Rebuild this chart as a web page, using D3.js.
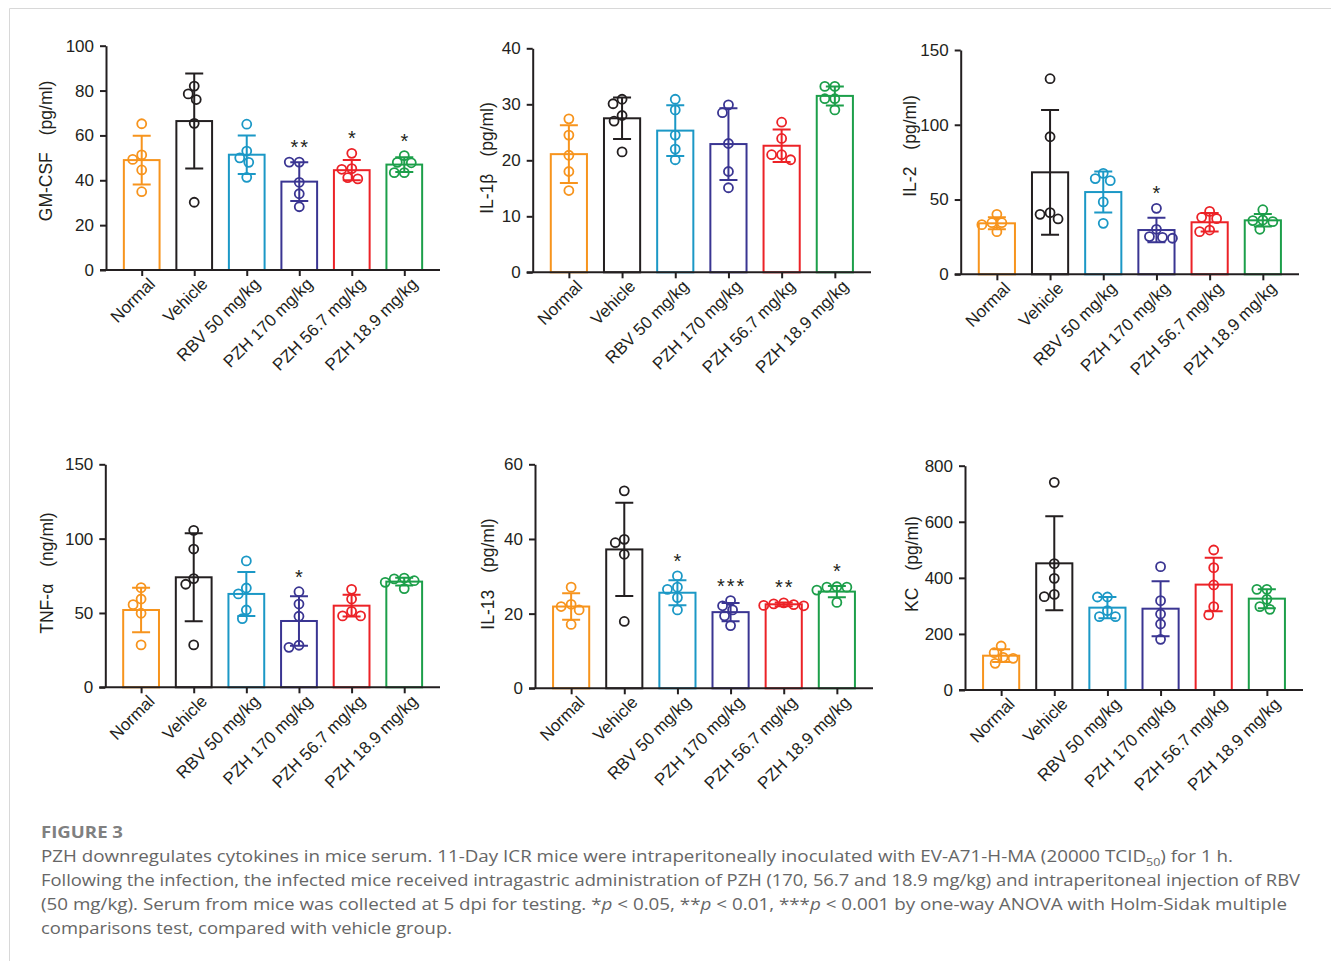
<!DOCTYPE html>
<html>
<head>
<meta charset="utf-8">
<script src="https://cdn.jsdelivr.net/npm/d3@7"></script>
<style>
  body { margin: 0; background: #fff; }
  svg text { font-family: "Liberation Sans", Arial, sans-serif; }
  .cap { font-family: "Open Sans", "Noto Sans", sans-serif !important; }
</style>
</head>
<body>
<svg id="fig" width="1331" height="961"></svg>
<script>
// groups + colours
const categories = ["Normal", "Vehicle", "RBV 50 mg/kg", "PZH 170 mg/kg", "PZH 56.7 mg/kg", "PZH 18.9 mg/kg"];
const groupColors = ["#f7941d", "#231f20", "#1b98c6", "#3a3592", "#ec2227", "#1c9f4a"];

// GM-CSF (pg/ml)
const gmcsfMean = [49, 66.4, 51.4, 39.4, 44.5, 47];
const gmcsfSd = [10.9, 21.2, 8.6, 8.6, 4.5, 3.3];
const gmcsfPts = [[65.2, 51.3, 49.3, 44.6, 34.9], [82, 78.5, 76, 65.4, 30.2], [65, 53, 50, 48, 41.3],
                  [48.1, 48.1, 39.1, 34, 28.2], [52, 45.2, 44.9, 41.2, 40.6], [51, 48, 47.8, 43.4, 43.4]];
const gmcsfSig = ["", "", "", "**", "*", "*"];

// IL-1β (pg/ml)
const il1bMean = [21.1, 27.5, 25.3, 22.9, 22.6, 31.5];
const il1bSd = [5.15, 3.7, 4.55, 6.4, 2.9, 1.7];
const il1bPts = [[27.4, 24.5, 20.9, 18, 14.6], [30.9, 30.1, 28, 27, 21.5], [30.9, 29, 24.5, 22, 20.1],
                 [29.9, 28.5, 23, 18, 15.1], [26.8, 23.9, 21, 21, 20.1], [33.2, 33.2, 31, 31, 29]];
const il1bSig = ["", "", "", "", "", ""];

// IL-2 (pg/ml)
const il2Mean = [34.1, 68.2, 55, 29.6, 34.8, 36.1];
const il2Sd = [4, 41.7, 13.7, 8.25, 6.15, 4.2];
const il2Pts = [[40.1, 34.5, 34.5, 33.2, 28.5], [130.8, 92, 41.2, 40.1, 37], [67.5, 64, 62.6, 48.4, 34.1],
                [44.1, 30.1, 25.2, 24.7, 24.1], [42.1, 38.1, 37.2, 29.6, 28.5], [43.2, 36.3, 35.9, 35.2, 30.1]];
const il2Sig = ["", "", "", "*", "", ""];

// TNF-α (ng/ml)
const tnfMean = [52, 74, 62.8, 44.6, 54.9, 71.1];
const tnfSd = [14.9, 29.6, 14.8, 16.6, 7.3, 2.6];
const tnfPts = [[67, 59.4, 55.6, 49.8, 28.5], [105.6, 93, 73.1, 69.3, 28.5], [85, 66.8, 62.8, 52, 46.2],
                [64.3, 56, 47.8, 28.3, 26.9], [65.9, 59.4, 51.1, 48, 48], [73.5, 72.9, 71.7, 70.6, 66.4]];
const tnfSig = ["", "", "", "*", "", ""];

// IL-13 (pg/ml)
const il13Mean = [21.9, 37.2, 25.6, 20.4, 22.5, 25.9];
const il13Sd = [3.55, 12.5, 3.35, 2.45, 0.5, 1.5];
const il13Pts = [[27.1, 22.5, 21.9, 21, 17.1], [52.9, 39.9, 39, 35.9, 17.9], [30.1, 27.1, 26.5, 24.3, 21],
                 [23.5, 22.1, 21, 19.4, 16.8], [22.9, 22.6, 22.4, 22.2, 22.1], [27.2, 27.1, 27.1, 26.3, 23]];
const il13Sig = ["", "", "*", "***", "**", "*"];

// KC (pg/ml)
const kcMean = [122.4, 451.8, 293.7, 290, 375.9, 325.8];
const kcSd = [22.5, 167.5, 38, 98.2, 95.4, 33.9];
const kcPts = [[157, 133, 116.5, 113, 95], [740.6, 450.6, 398.3, 341, 333], [331.7, 331.7, 283, 261.6, 261.6],
               [440, 318.7, 271, 235.4, 180.7], [499.4, 436.4, 374.6, 297.3, 267.6], [359, 359, 323.4, 297.3, 287.7]];
const kcSig = ["", "", "", "", "", ""];

const panels = [
  { name: "GM-CSF", unit: "(pg/ml)", mean: gmcsfMean, sd: gmcsfSd, pts: gmcsfPts, sig: gmcsfSig,
    max: 100, ticks: [0, 20, 40, 60, 80, 100], x0: 106, x1: 440, top: 45.7, bottom: 270, tx: 46, ty: 151 },
  { name: "IL-1\u03b2", unit: "(pg/ml)", mean: il1bMean, sd: il1bSd, pts: il1bPts, sig: il1bSig,
    max: 40, ticks: [0, 10, 20, 30, 40], x0: 532.7, x1: 871, top: 48.3, bottom: 272.3, tx: 487, ty: 158 },
  { name: "IL-2", unit: "(pg/ml)", mean: il2Mean, sd: il2Sd, pts: il2Pts, sig: il2Sig,
    max: 150, ticks: [0, 50, 100, 150], x0: 960.7, x1: 1299, top: 50, bottom: 274.3, tx: 910, ty: 146 },
  { name: "TNF-\u03b1", unit: "(ng/ml)", mean: tnfMean, sd: tnfSd, pts: tnfPts, sig: tnfSig,
    max: 150, ticks: [0, 50, 100, 150], x0: 105.3, x1: 440, top: 464.3, bottom: 687.3, tx: 47, ty: 573 },
  { name: "IL-13", unit: "(pg/ml)", mean: il13Mean, sd: il13Sd, pts: il13Pts, sig: il13Sig,
    max: 60, ticks: [0, 20, 40, 60], x0: 535, x1: 873, top: 464.3, bottom: 688.3, tx: 488, ty: 574 },
  { name: "KC", unit: "(pg/ml)", mean: kcMean, sd: kcSd, pts: kcPts, sig: kcSig,
    max: 800, ticks: [0, 200, 400, 600, 800], x0: 965, x1: 1303, top: 465.7, bottom: 690, tx: 912, ty: 564 }
];

const ink = "#231f20";
const svg = d3.select("#fig");

// frame lines of the page
svg.append("path").attr("d", "M9.5,961V8.5H1331").attr("fill", "none").attr("stroke", "#d8d8d8");

// simple beeswarm so overlapping dots spread sideways like prism does
function swarm(vals, y, minD) {
  const placed = [];
  return vals.map(v => {
    const py = y(v);
    let dx = 0;
    for (let k = 0; k < 60; k++) {
      const cand = k === 0 ? 0 : (k % 2 ? -1 : 1) * Math.ceil(k / 2);
      const ok = placed.every(p => Math.hypot(p[0] - cand, p[1] - py) >= minD);
      if (ok) { dx = cand; break; }
    }
    placed.push([dx, py]);
    return { v: v, dx: dx };
  });
}

function drawPanel(p) {
  const g = svg.append("g");
  const x = d3.scalePoint().domain(categories).range([p.x0, p.x1]).padding(0.68);
  const y = d3.scaleLinear().domain([0, p.max]).range([p.bottom, p.top]);
  const bw = x.step() * 0.68;

  // bars
  g.selectAll("rect.bar").data(categories).join("rect")
    .attr("class", "bar")
    .attr("x", d => x(d) - bw / 2)
    .attr("y", (d, i) => y(p.mean[i]))
    .attr("width", bw)
    .attr("height", (d, i) => y(0) - y(p.mean[i]))
    .attr("fill", "#fff")
    .attr("stroke", (d, i) => groupColors[i])
    .attr("stroke-width", 2);

  // error bars (mean ± SD)
  categories.forEach((c, i) => {
    const cx = x(c), col = groupColors[i];
    const lo = y(p.mean[i] - p.sd[i]), hi = y(p.mean[i] + p.sd[i]);
    g.append("path")
      .attr("d", `M${cx},${lo}V${hi}M${cx - 9},${hi}H${cx + 9}M${cx - 9},${lo}H${cx + 9}`)
      .attr("fill", "none").attr("stroke", col).attr("stroke-width", 2);

    // dots
    g.selectAll(null).data(swarm(p.pts[i], y, 9.5)).join("circle")
      .attr("cx", d => cx + d.dx)
      .attr("cy", d => y(d.v))
      .attr("r", 4.5)
      .attr("fill", "none")
      .attr("stroke", col)
      .attr("stroke-width", 1.8);

    // significance stars
    if (p.sig[i]) {
      const topPx = Math.min(hi, y(d3.max(p.pts[i])));
      g.append("text")
        .attr("x", cx + 1)
        .attr("y", topPx - 8)
        .attr("text-anchor", "middle")
        .attr("font-size", 20)
        .attr("letter-spacing", 2)
        .attr("fill", ink)
        .text(p.sig[i]);
    }
  });

  // y axis
  const ya = g.append("g")
    .attr("transform", `translate(${p.x0},0)`)
    .call(d3.axisLeft(y).tickValues(p.ticks).tickSize(6).tickSizeOuter(0).tickPadding(6));
  // x axis
  const xa = g.append("g")
    .attr("transform", `translate(0,${p.bottom})`)
    .call(d3.axisBottom(x).tickSize(6).tickSizeOuter(0));
  xa.select(".domain").attr("d", `M${p.x0 - 6},0H${p.x1}`);

  [ya, xa].forEach(a => {
    a.select(".domain").attr("stroke", ink).attr("stroke-width", 2);
    a.selectAll(".tick line").attr("stroke", ink).attr("stroke-width", 2);
    a.selectAll(".tick text").attr("fill", ink).attr("font-size", 17)
      .style("font-family", '"Liberation Sans", Arial, sans-serif');
  });
  xa.selectAll(".tick text")
    .attr("y", 0).attr("dy", 0)
    .attr("text-anchor", "end")
    .attr("transform", "translate(14,15) rotate(-45)");

  // y title
  const t = g.append("text")
    .attr("transform", `translate(${p.tx},${p.ty}) rotate(-90)`)
    .attr("text-anchor", "middle")
    .attr("dy", "0.35em")
    .attr("font-size", 17.5)
    .attr("fill", ink);
  t.append("tspan").text(p.name);
  t.append("tspan").attr("dx", 17).text(p.unit);
}

panels.forEach(drawPanel);

// caption
const capX = 41;
svg.append("text").attr("class", "cap")
  .attr("x", capX).attr("y", 838)
  .attr("font-size", 16.5).attr("font-weight", "bold").attr("fill", "#808080")
  .attr("textLength", 82).attr("lengthAdjust", "spacingAndGlyphs")
  .text("FIGURE 3");

const capLines = [
  { y: 862, w: 1192, parts: [["PZH downregulates cytokines in mice serum. 11-Day ICR mice were intraperitoneally inoculated with EV-A71-H-MA (20000 TCID"], ["50", "sub"], [") for 1 h."]] },
  { y: 886, w: 1259, parts: [["Following the infection, the infected mice received intragastric administration of PZH (170, 56.7 and 18.9 mg/kg) and intraperitoneal injection of RBV"]] },
  { y: 910, w: 1246, parts: [["(50 mg/kg). Serum from mice was collected at 5 dpi for testing. *"], ["p", "it"], [" < 0.05, **"], ["p", "it"], [" < 0.01, ***"], ["p", "it"], [" < 0.001 by one-way ANOVA with Holm-Sidak multiple"]] },
  { y: 934, w: 411, parts: [["comparisons test, compared with vehicle group."]] }
];

capLines.forEach(l => {
  const t = svg.append("text").attr("class", "cap")
    .attr("x", capX).attr("y", l.y)
    .attr("font-size", 16.5).attr("fill", "#666")
    .attr("textLength", l.w).attr("lengthAdjust", "spacingAndGlyphs");
  let sub = false;
  l.parts.forEach(([s, k]) => {
    const ts = t.append("tspan").text(s);
    if (k === "it") ts.attr("font-style", "italic");
    if (k === "sub") { ts.attr("font-size", 11).attr("dy", 4); sub = true; }
    else if (sub) { ts.attr("dy", -4); sub = false; }
  });
});
</script>
</body>
</html>
